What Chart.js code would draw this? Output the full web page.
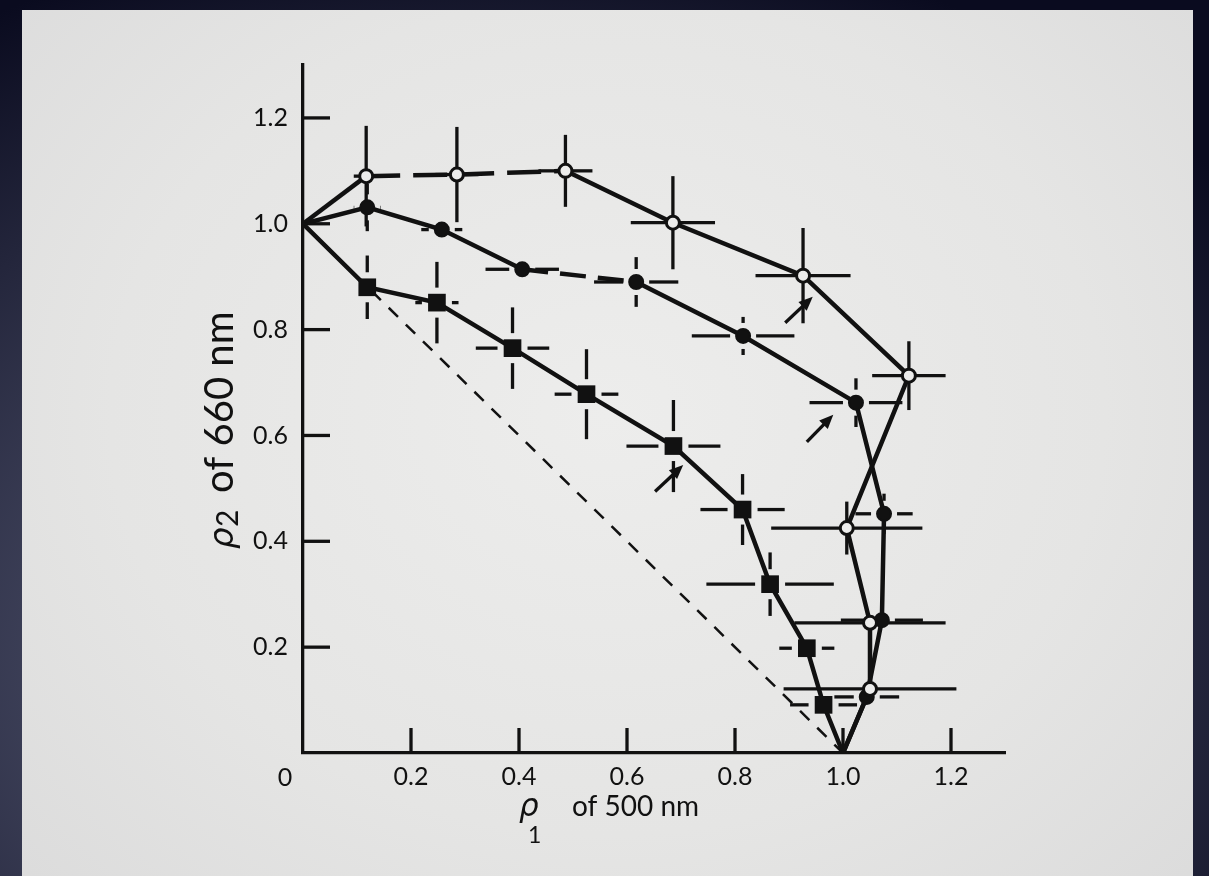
<!DOCTYPE html>
<html>
<head>
<meta charset="utf-8">
<title>ρ1 of 500 nm vs ρ2 of 660 nm</title>
<script src="https://cdn.jsdelivr.net/npm/chart.js@4.4.0/dist/chart.umd.min.js"></script>
<style>
  html, body { margin: 0; padding: 0; width: 1209px; height: 876px; overflow: hidden; }
  body { background: radial-gradient(ellipse 80% 85% at 40% 75%, #5e6179 0%, #3d4058 45%, #0a0b1f 100%); }
  #paper {
    position: absolute; left: 22px; top: 10px; width: 1171px; height: 900px;
    background: radial-gradient(ellipse at 50% 45%, #ededec 0%, #e5e5e4 60%, #dbdbdb 100%);
  }
  #plot { position: absolute; left: 0; top: 0; }
</style>
</head>
<body>
<div id="paper"></div>
<canvas id="plot" width="1209" height="876"></canvas>
<script>
const xTickValues = [0, 0.2, 0.4, 0.6, 0.8, 1.0, 1.2];
const yTickValues = [0.2, 0.4, 0.6, 0.8, 1.0, 1.2];

// open circles
const openX    = [0, 0.117, 0.285, 0.486, 0.685, 0.926, 1.122, 1.007, 1.050, 1.050, 1.0];
const openY    = [1.0, 1.090, 1.093, 1.100, 1.002, 0.902, 0.713, 0.425, 0.246, 0.121, 0];
const openXErr = [0, 0.023, 0.040, 0.050, 0.078, 0.088, 0.068, 0.140, 0.140, 0.160, 0];
const openYErr = [0, 0.095, 0.090, 0.068, 0.088, 0.090, 0.065, 0.050, 0, 0.015, 0];

// filled circles
const fillX    = [0, 0.119, 0.257, 0.406, 0.617, 0.815, 1.024, 1.076, 1.072, 1.044, 1.0];
const fillY    = [1.0, 1.031, 0.989, 0.914, 0.890, 0.788, 0.662, 0.452, 0.251, 0.106, 0];
const fillXErr = [0, 0.025, 0.038, 0.068, 0.078, 0.095, 0.086, 0.053, 0.076, 0.060, 0];
const fillYErr = [0, 0.045, 0, 0, 0.047, 0.036, 0.046, 0.038, 0, 0, 0];

// filled squares
const sqX    = [0, 0.119, 0.248, 0.388, 0.525, 0.686, 0.814, 0.865, 0.933, 0.964, 1.0];
const sqY    = [1.0, 0.880, 0.851, 0.765, 0.678, 0.580, 0.460, 0.319, 0.198, 0.091, 0];
const sqXErr = [0, 0.027, 0.040, 0.068, 0.059, 0.087, 0.078, 0.118, 0.051, 0.062, 0];
const sqYErr = [0, 0.060, 0.077, 0.077, 0.085, 0.087, 0.067, 0.060, 0.025, 0, 0];

// straight mixing line
const diagX = [0, 1.0];
const diagY = [1.0, 0];

// small arrows: [x0, y0, x1, y1], head at (x1, y1)
const arrows = [
  [0.893, 0.813, 0.944, 0.862],
  [0.933, 0.588, 0.982, 0.639],
  [0.652, 0.494, 0.704, 0.544]
];

const ink = "#111111";
const paper = "#ececeb";

function pts(xs, ys) {
  return xs.map((x, i) => ({ x: x, y: ys[i] }));
}

function radii(n, r) {
  return Array.from({ length: n }, (_, i) => (i === 0 || i === n - 1) ? 0 : r);
}

function seg(ctx, x0, y0, x1, y1) {
  ctx.beginPath();
  ctx.moveTo(x0, y0);
  ctx.lineTo(x1, y1);
  ctx.stroke();
}

// crosshair error bars, drawn under the lines and markers
const errorBars = {
  id: "errorBars",
  beforeDatasetsDraw(chart) {
    const { ctx, scales: { x, y } } = chart;
    ctx.save();
    ctx.strokeStyle = ink;
    ctx.lineWidth = 3.3;
    chart.data.datasets.forEach(ds => {
      if (!ds.xErr) return;
      const gap = ds.barGap || 0;
      ds.data.forEach((p, i) => {
        const px = x.getPixelForValue(p.x);
        const py = y.getPixelForValue(p.y);
        const ex = ds.xErr[i], ey = ds.yErr[i];
        if (ex) {
          const l = x.getPixelForValue(p.x - ex), r = x.getPixelForValue(p.x + ex);
          if (px - gap > l) seg(ctx, l, py, px - gap, py);
          if (px + gap < r) seg(ctx, px + gap, py, r, py);
        }
        if (ey) {
          const t = y.getPixelForValue(p.y + ey), b = y.getPixelForValue(p.y - ey);
          if (py - gap > t) seg(ctx, px, t, px, py - gap);
          if (py + gap < b) seg(ctx, px, py + gap, px, b);
        }
      });
    });
    ctx.restore();
  }
};

// inward tick marks, arrows, origin label and axis titles
const decorations = {
  id: "decorations",
  afterDatasetsDraw(chart) {
    const { ctx, scales: { x, y } } = chart;
    ctx.save();
    ctx.strokeStyle = ink;
    ctx.fillStyle = ink;
    ctx.lineWidth = 3.3;
    arrows.forEach(a => {
      const x0 = x.getPixelForValue(a[0]), y0 = y.getPixelForValue(a[1]);
      const x1 = x.getPixelForValue(a[2]), y1 = y.getPixelForValue(a[3]);
      const ang = Math.atan2(y1 - y0, x1 - x0);
      seg(ctx, x0, y0, x1 - 6 * Math.cos(ang), y1 - 6 * Math.sin(ang));
      ctx.beginPath();
      ctx.moveTo(x1, y1);
      ctx.lineTo(x1 - 14 * Math.cos(ang) + 6 * Math.sin(ang), y1 - 14 * Math.sin(ang) - 6 * Math.cos(ang));
      ctx.lineTo(x1 - 14 * Math.cos(ang) - 6 * Math.sin(ang), y1 - 14 * Math.sin(ang) + 6 * Math.cos(ang));
      ctx.closePath();
      ctx.fill();
    });
    ctx.restore();
  },
  afterDraw(chart) {
    const { ctx, scales: { x, y }, chartArea } = chart;
    ctx.save();
    ctx.strokeStyle = ink;
    ctx.lineWidth = 3.3;
    yTickValues.forEach(v => {
      const py = y.getPixelForValue(v);
      seg(ctx, chartArea.left, py, chartArea.left + 27, py);
    });
    xTickValues.forEach(v => {
      if (v === 0) return;
      const px = x.getPixelForValue(v);
      seg(ctx, px, chartArea.bottom, px, chartArea.bottom - 25);
    });

    ctx.fillStyle = "#111";
    ctx.textBaseline = "alphabetic";
    ctx.textAlign = "center";
    ctx.font = "25px Lato";
    ctx.fillText("0", chartArea.left - 18, chartArea.bottom + 33);

    // x title: rho with subscript 1 set underneath
    ctx.textAlign = "left";
    ctx.font = "italic 31px 'DejaVu Sans'";
    ctx.fillText("ρ", 519, 816);
    ctx.font = "23px Lato";
    ctx.fillText("1", 528, 843);
    ctx.font = "28px Lato";
    ctx.fillText("of 500 nm", 572, 816);

    // y title, rotated
    ctx.translate(233, 549);
    ctx.rotate(-Math.PI / 2);
    ctx.font = "italic 34px 'DejaVu Sans'";
    ctx.fillText("ρ", 0, 0);
    ctx.font = "30px Lato";
    ctx.fillText("2", 22, 5);
    ctx.font = "40px Lato";
    ctx.fillText("of 660 nm", 56, 0);
    ctx.restore();
  }
};

new Chart(document.getElementById("plot"), {
  type: "scatter",
  data: {
    datasets: [
      {
        label: "open circles",
        data: pts(openX, openY),
        xErr: openXErr, yErr: openYErr, barGap: 0,
        showLine: true,
        borderColor: ink,
        borderWidth: 4.5,
        pointStyle: "circle",
        pointRadius: radii(openX.length, 6.5),
        pointBackgroundColor: paper,
        pointBorderColor: ink,
        pointBorderWidth: 3,
        segment: {
          borderDash: c => (c.p0DataIndex === 1 || c.p0DataIndex === 2) ? [34, 13] : undefined
        }
      },
      {
        label: "filled circles",
        data: pts(fillX, fillY),
        xErr: fillXErr, yErr: fillYErr, barGap: 13,
        showLine: true,
        borderColor: ink,
        borderWidth: 4.5,
        pointStyle: "circle",
        pointRadius: radii(fillX.length, 7),
        pointBackgroundColor: ink,
        pointBorderColor: ink,
        pointBorderWidth: 2,
        segment: {
          borderDash: c => (c.p0DataIndex === 3) ? [26, 12] : undefined
        }
      },
      {
        label: "squares",
        data: pts(sqX, sqY),
        xErr: sqXErr, yErr: sqYErr, barGap: 15,
        showLine: true,
        borderColor: ink,
        borderWidth: 4.5,
        pointStyle: "rect",
        pointRadius: radii(sqX.length, 12.5),
        pointBackgroundColor: ink,
        pointBorderColor: ink,
        pointBorderWidth: 0
      },
      {
        label: "mixing line",
        data: pts(diagX, diagY),
        showLine: true,
        borderColor: ink,
        borderWidth: 2.5,
        borderDash: [13, 11],
        pointRadius: 0
      }
    ]
  },
  options: {
    responsive: false,
    animation: false,
    events: [],
    layout: { padding: { top: 65, right: 204, left: 0, bottom: 0 } },
    plugins: {
      legend: { display: false },
      tooltip: { enabled: false }
    },
    scales: {
      x: {
        type: "linear",
        min: 0,
        max: 1.3,
        afterBuildTicks: s => { s.ticks = xTickValues.map(v => ({ value: v })); },
        afterFit: s => { s.height = 123; },
        grid: { display: false, drawTicks: false },
        border: { display: true, color: ink, width: 3.3 },
        ticks: {
          padding: 9,
          color: "#111",
          font: { family: "Lato", size: 25 },
          callback: v => v === 0 ? "" : v.toFixed(1)
        }
      },
      y: {
        type: "linear",
        min: 0,
        max: 1.3,
        afterBuildTicks: s => { s.ticks = yTickValues.map(v => ({ value: v })); },
        afterFit: s => { s.width = 303; },
        grid: { display: false, drawTicks: false },
        border: { display: true, color: ink, width: 3.3 },
        ticks: {
          padding: 15,
          color: "#111",
          font: { family: "Lato", size: 25 },
          callback: v => v.toFixed(1)
        }
      }
    }
  },
  plugins: [errorBars, decorations]
});
</script>
</body>
</html>
